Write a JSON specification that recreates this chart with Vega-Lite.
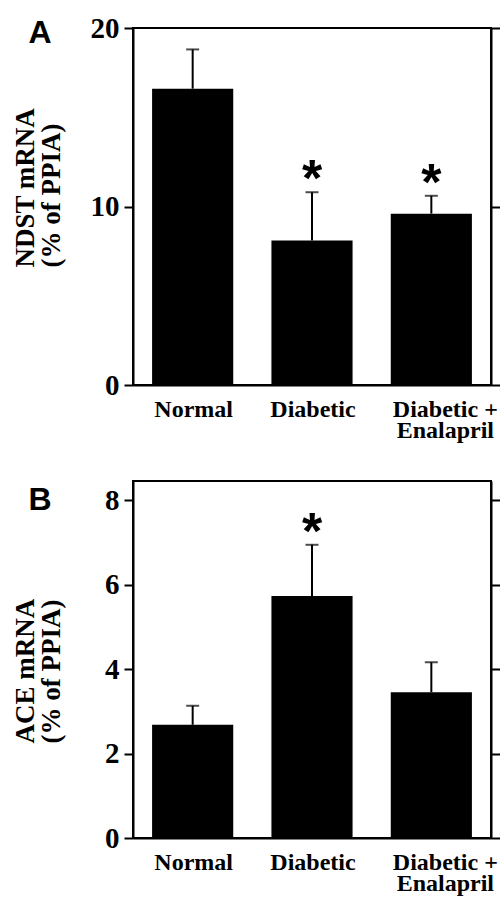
{
  "$schema": "https://vega.github.io/schema/vega-lite/v6.json",
  "background": "white",
  "padding": {"left": 10, "top": 13, "right": 0, "bottom": 0},
  "spacing": 37,
  "datasets": {
    "A": [
      {"group": "Normal", "value": 16.6, "err": 18.8, "sig": false},
      {"group": "Diabetic", "value": 8.1, "err": 10.8, "sig": true},
      {"group": "Diabetic + Enalapril", "value": 9.6, "err": 10.6, "sig": true}
    ],
    "B": [
      {"group": "Normal", "value": 2.68, "err": 3.13, "sig": false},
      {"group": "Diabetic", "value": 5.73, "err": 6.94, "sig": true},
      {"group": "Diabetic + Enalapril", "value": 3.45, "err": 4.16, "sig": false}
    ]
  },
  "config": {
    "view": {"stroke": "black", "strokeWidth": 2},
    "axis": {
      "domainColor": "black", "domainWidth": 2, "tickColor": "black", "tickWidth": 2,
      "grid": false, "labelColor": "black", "titleColor": "black"
    }
  },
  "vconcat": [
    {
      "width": 358, "height": 357,
      "data": {"name": "A"},
      "encoding": {
        "x": {"field": "group", "type": "nominal", "sort": null,
          "scale": {"paddingInner": 0.32, "paddingOuter": 0.16},
          "axis": {"title": null, "labelAngle": 0, "ticks": false, "labelFont": "Liberation Serif", "labelFontWeight": "bold", "labelFontSize": 24, "labelPadding": 12, "labelLineHeight": 21, "labelOverlap": false, "labelBound": false,
            "labelExpr": "datum.label == 'Diabetic + Enalapril' ? ['Diabetic +', 'Enalapril'] : datum.label",
            "labelOffset": {"condition": {"test": "datum.label == 'Diabetic + Enalapril'", "value": 14}, "value": 1}}}
      },
      "layer": [
        {"mark": {"type": "bar", "color": "black"},
          "encoding": {"y": {"field": "value", "type": "quantitative", "scale": {"domain": [0, 20], "nice": false},
            "axis": {"orient": "left", "values": [0, 10, 20], "tickSize": 9, "labelFont": "Liberation Serif", "labelFontWeight": "bold", "labelFontSize": 29, "labelPadding": 5,
              "title": ["NDST mRNA", "(% of PPIA)"], "titleFont": "Liberation Serif", "titleFontWeight": "bold", "titleFontSize": 27, "titleLineHeight": 26, "titleAlign": "left", "titleBaseline": "alphabetic", "titleAngle": -90, "titleX": -100, "titleY": 239}}}},
        {"mark": {"type": "rule", "color": "black", "strokeWidth": 2},
          "encoding": {"y": {"field": "value", "type": "quantitative", "axis": {"orient": "right", "values": [0, 10, 20], "tickSize": 9, "labels": false,
            "title": "A", "titleFont": "Liberation Sans", "titleFontSize": 32, "titleFontWeight": "bold", "titleAngle": 0, "titleAlign": "left", "titleBaseline": "alphabetic", "titleX": -463, "titleY": 14}}, "y2": {"field": "err"}}},
        {"mark": {"type": "tick", "color": "black", "thickness": 2, "size": 13},
          "encoding": {"y": {"field": "err", "type": "quantitative", "axis": null}}},
        {"transform": [{"filter": "datum.sig"}],
          "mark": {"type": "text", "text": "*", "font": "Liberation Sans", "fontWeight": "bold", "fontSize": 52, "baseline": "alphabetic", "dy": 4, "color": "black"},
          "encoding": {"y": {"field": "err", "type": "quantitative", "axis": null}}}
      ],
      "resolve": {"axis": {"y": "independent"}}
    },
    {
      "width": 358, "height": 357,
      "data": {"name": "B"},
      "encoding": {
        "x": {"field": "group", "type": "nominal", "sort": null,
          "scale": {"paddingInner": 0.32, "paddingOuter": 0.16},
          "axis": {"title": null, "labelAngle": 0, "ticks": false, "labelFont": "Liberation Serif", "labelFontWeight": "bold", "labelFontSize": 24, "labelPadding": 12, "labelLineHeight": 21, "labelOverlap": false, "labelBound": false,
            "labelExpr": "datum.label == 'Diabetic + Enalapril' ? ['Diabetic +', 'Enalapril'] : datum.label",
            "labelOffset": {"condition": {"test": "datum.label == 'Diabetic + Enalapril'", "value": 14}, "value": 1}}}
      },
      "layer": [
        {"mark": {"type": "bar", "color": "black"},
          "encoding": {"y": {"field": "value", "type": "quantitative", "scale": {"domain": [0, 8.45], "nice": false},
            "axis": {"orient": "left", "values": [0, 2, 4, 6, 8], "tickSize": 9, "labelFont": "Liberation Serif", "labelFontWeight": "bold", "labelFontSize": 29, "labelPadding": 5,
              "title": ["ACE mRNA", "(% of PPIA)"], "titleFont": "Liberation Serif", "titleFontWeight": "bold", "titleFontSize": 27, "titleLineHeight": 26, "titleAlign": "left", "titleBaseline": "alphabetic", "titleAngle": -90, "titleX": -100, "titleY": 262}}}},
        {"mark": {"type": "rule", "color": "black", "strokeWidth": 2},
          "encoding": {"y": {"field": "value", "type": "quantitative", "axis": {"orient": "right", "values": [0, 2, 4, 6, 8], "tickSize": 9, "labels": false,
            "title": "B", "titleFont": "Liberation Sans", "titleFontSize": 32, "titleFontWeight": "bold", "titleAngle": 0, "titleAlign": "left", "titleBaseline": "alphabetic", "titleX": -463, "titleY": 28}}, "y2": {"field": "err"}}},
        {"mark": {"type": "tick", "color": "black", "thickness": 2, "size": 13},
          "encoding": {"y": {"field": "err", "type": "quantitative", "axis": null}}},
        {"transform": [{"filter": "datum.sig"}],
          "mark": {"type": "text", "text": "*", "font": "Liberation Sans", "fontWeight": "bold", "fontSize": 52, "baseline": "alphabetic", "dy": 4, "color": "black"},
          "encoding": {"y": {"field": "err", "type": "quantitative", "axis": null}}}
      ],
      "resolve": {"axis": {"y": "independent"}}
    }
  ]
}
